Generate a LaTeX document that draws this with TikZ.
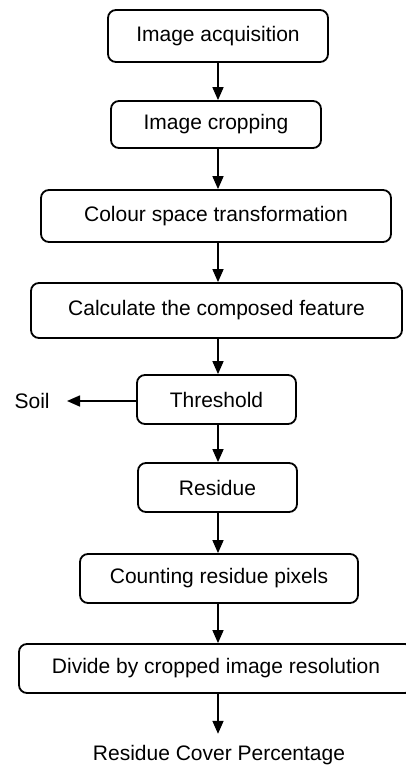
\documentclass[tikz,border=0pt]{standalone}
\usepackage{fontspec}
\setmainfont{Liberation Sans}
\usetikzlibrary{arrows.meta}
\begin{document}
\begin{tikzpicture}[x=0.5pt,y=-0.5pt,
  font=\fontsize{10.5}{12.6}\selectfont,
  box/.style={draw, line width=0.9pt, rounded corners=4pt, inner sep=0pt, align=center, minimum height=24.5pt},
  arr/.style={line width=0.8pt, -{Triangle[length=6.5pt,width=5.5pt]}}]
\useasboundingbox (0,0) rectangle (406,767);
\clip (0,0) rectangle (406,767);
\coordinate (ax) at (218,0);
\node[box, minimum width=110pt, minimum height=26pt] (b1) at (218,36) {Image acquisition};
\node[box, minimum width=105pt, minimum height=23.5pt] (b2) at (216,124.5) {Image cropping};
\node[box, minimum width=175pt, minimum height=26pt] (b3) at (216,216) {Colour space transformation};
\node[box, minimum width=185.5pt, minimum height=27.5pt] (b4) at (216.5,310.5) {Calculate the composed feature};
\node[box, minimum width=79.5pt] (b5) at (216.5,399.5) {Threshold};
\node[box, minimum width=79.5pt] (b6) at (217.5,487.5) {Residue};
\node[box, minimum width=139pt] (b7) at (219,578.5) {Counting residue pixels};
\node[box, minimum width=197pt] (b8) at (216,668.5) {Divide by cropped image resolution};
\node[anchor=east, inner sep=0pt] (soil) at (50,401) {Soil};
\node[inner sep=0pt] (res) at (219,755) {Residue Cover Percentage};
\draw[arr] (b1.south -| ax) -- (b2.north -| ax);
\draw[arr] (b2.south -| ax) -- (b3.north -| ax);
\draw[arr] (b3.south -| ax) -- (b4.north -| ax);
\draw[arr] (b4.south -| ax) -- (b5.north -| ax);
\draw[arr] (b5.south -| ax) -- (b6.north -| ax);
\draw[arr] (b6.south -| ax) -- (b7.north -| ax);
\draw[arr] (b7.south -| ax) -- (b8.north -| ax);
\draw[arr] (b8.south -| ax) -- ([yshift=5.5pt]res.north -| ax);
\draw[arr] (b5.west |- soil.east) -- ([xshift=8.5pt]soil.east);
\end{tikzpicture}
\end{document}
